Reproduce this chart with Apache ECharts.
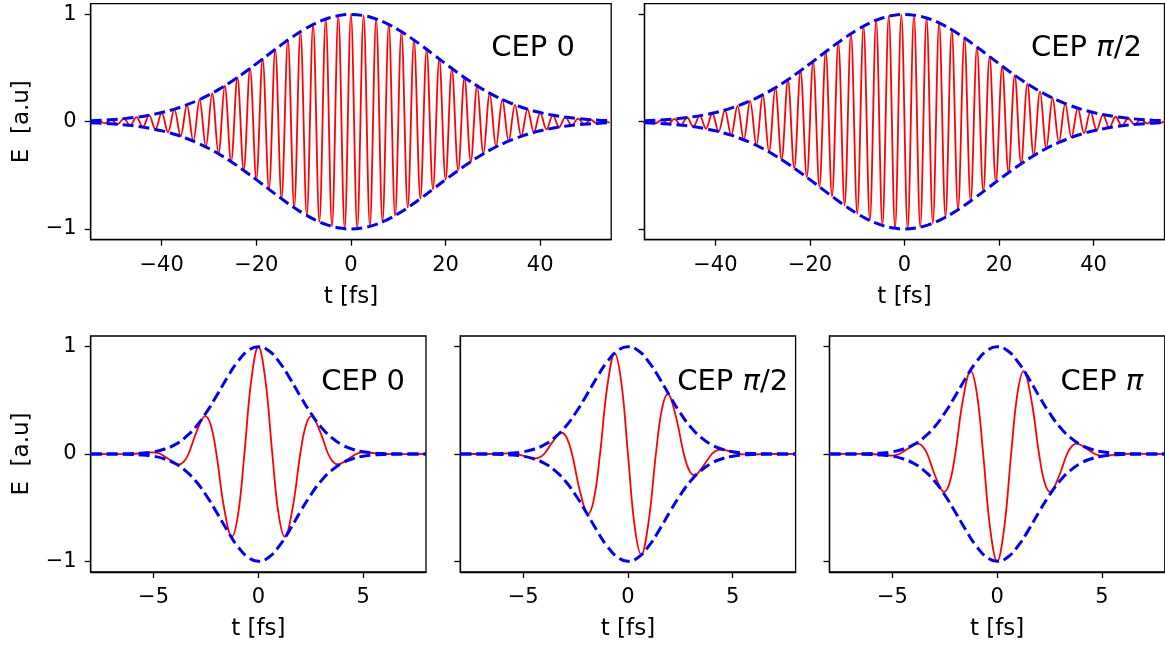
<!DOCTYPE html>
<html><head><meta charset="utf-8">
<script src="https://cdn.jsdelivr.net/npm/echarts@6/dist/echarts.min.js"></script>
<style>html,body{margin:0;padding:0;background:#fff}#c{width:1165px;height:646px}</style>
</head><body><div id="c"></div>
<script>
// ---------------- data ----------------
const topXTicks = [-40, -20, 0, 20, 40];
const botXTicks = [-5, 0, 5];
const yTicks = [-1, 0, 1];
const xLabel = 't [fs]';
const yLabel = 'E  [a.u]';
const panelTitles = ['CEP 0', 'CEP π/2', 'CEP 0', 'CEP π/2', 'CEP π'];

// envelope (upper half), long pulse
const topEnvelope = [[-55,0.0095],[-52.5,0.014],[-50,0.021],[-47.5,0.031],[-45,0.044],[-42.5,0.062],[-40,0.085],[-37.5,0.115],[-35,0.152],[-32.5,0.197],[-30,0.250],[-27.5,0.312],[-25,0.382],[-22.5,0.459],[-20,0.540],[-17.5,0.624],[-15,0.707],[-12.5,0.786],[-10,0.857],[-7.5,0.917],[-5,0.962],[-2.5,0.990],[0,1],[2.5,0.990],[5,0.962],[7.5,0.917],[10,0.857],[12.5,0.786],[15,0.707],[17.5,0.624],[20,0.540],[22.5,0.459],[25,0.382],[27.5,0.312],[30,0.250],[32.5,0.197],[35,0.152],[37.5,0.115],[40,0.085],[42.5,0.062],[45,0.044],[47.5,0.031],[50,0.021],[52.5,0.014],[55,0.0095]];

// field extrema, long pulse, CEP 0
const topFieldCep0 = [[-54.67,-0.010],[-53.33,0.013],[-52.0,-0.016],[-50.67,0.019],[-49.33,-0.024],[-48.0,0.029],[-46.67,-0.035],[-45.33,0.042],[-44.0,-0.051],[-42.67,0.061],[-41.33,-0.072],[-40.0,0.085],[-38.67,-0.100],[-37.33,0.117],[-36.0,-0.136],[-34.67,0.157],[-33.33,-0.181],[-32.0,0.207],[-30.67,-0.235],[-29.33,0.266],[-28.0,-0.299],[-26.67,0.335],[-25.33,-0.373],[-24.0,0.412],[-22.67,-0.454],[-21.33,0.497],[-20.0,-0.540],[-18.67,0.585],[-17.33,-0.630],[-16.0,0.675],[-14.67,-0.718],[-13.33,0.761],[-12.0,-0.801],[-10.67,0.839],[-9.33,-0.875],[-8.0,0.906],[-6.67,-0.934],[-5.33,0.957],[-4.0,-0.976],[-2.67,0.989],[-1.33,-0.997],[0,1],[1.33,-0.997],[2.67,0.989],[4.0,-0.976],[5.33,0.957],[6.67,-0.934],[8.0,0.906],[9.33,-0.875],[10.67,0.839],[12.0,-0.801],[13.33,0.761],[14.67,-0.718],[16.0,0.675],[17.33,-0.630],[18.67,0.585],[20.0,-0.540],[21.33,0.497],[22.67,-0.454],[24.0,0.412],[25.33,-0.373],[26.67,0.335],[28.0,-0.299],[29.33,0.266],[30.67,-0.235],[32.0,0.207],[33.33,-0.181],[34.67,0.157],[36.0,-0.136],[37.33,0.117],[38.67,-0.100],[40.0,0.085],[41.33,-0.072],[42.67,0.061],[44.0,-0.051],[45.33,0.042],[46.67,-0.035],[48.0,0.029],[49.33,-0.024],[50.67,0.019],[52.0,-0.016],[53.33,0.013],[54.67,-0.010]];

// field extrema, long pulse, CEP pi/2
const topFieldCepHalf = [[-55.33,-0.009],[-54.0,0.011],[-52.67,-0.014],[-51.33,0.017],[-50.0,-0.021],[-48.67,0.026],[-47.33,-0.032],[-46.0,0.039],[-44.67,-0.046],[-43.33,0.056],[-42.0,-0.066],[-40.67,0.079],[-39.33,-0.093],[-38.0,0.108],[-36.67,-0.126],[-35.33,0.147],[-34.0,-0.169],[-32.67,0.194],[-31.33,-0.221],[-30.0,0.250],[-28.67,-0.282],[-27.33,0.317],[-26.0,-0.353],[-24.67,0.392],[-23.33,-0.433],[-22.0,0.475],[-20.67,-0.518],[-19.33,0.563],[-18.0,-0.607],[-16.67,0.652],[-15.33,-0.696],[-14.0,0.740],[-12.67,-0.781],[-11.33,0.821],[-10.0,-0.857],[-8.67,0.891],[-7.33,-0.921],[-6.0,0.946],[-4.67,-0.967],[-3.33,0.983],[-2.0,-0.994],[-0.67,0.999],[0.67,-0.999],[2.0,0.994],[3.33,-0.983],[4.67,0.967],[6.0,-0.946],[7.33,0.921],[8.67,-0.891],[10.0,0.857],[11.33,-0.821],[12.67,0.781],[14.0,-0.740],[15.33,0.696],[16.67,-0.652],[18.0,0.607],[19.33,-0.563],[20.67,0.518],[22.0,-0.475],[23.33,0.433],[24.67,-0.392],[26.0,0.353],[27.33,-0.317],[28.67,0.282],[30.0,-0.250],[31.33,0.221],[32.67,-0.194],[34.0,0.169],[35.33,-0.147],[36.67,0.126],[38.0,-0.108],[39.33,0.093],[40.67,-0.079],[42.0,0.066],[43.33,-0.056],[44.67,0.046],[46.0,-0.039],[47.33,0.032],[48.67,-0.026],[50.0,0.021],[51.33,-0.017],[52.67,0.014],[54.0,-0.011],[55.33,0.009]];

// envelope (upper half), short pulse
const botEnvelope = [[-8,0],[-7.5,0.0002],[-7,0.0005],[-6.5,0.0015],[-6,0.004],[-5.5,0.0095],[-5,0.021],[-4.5,0.044],[-4,0.085],[-3.5,0.152],[-3,0.250],[-2.5,0.382],[-2,0.540],[-1.5,0.707],[-1,0.857],[-0.5,0.962],[0,1],[0.5,0.962],[1,0.857],[1.5,0.707],[2,0.540],[2.5,0.382],[3,0.250],[3.5,0.152],[4,0.085],[4.5,0.044],[5,0.021],[5.5,0.0095],[6,0.004],[6.5,0.0015],[7,0.0005],[7.5,0.0002],[8,0]];

// field (extrema, zero crossings and points between), short pulse
const botFieldCep0 = [[-8,0],[-6.37,-0.0015],[-6.0,0],[-5.54,0.008],[-5.08,0.016],[-4.874,0.012],[-4.667,0],[-4.234,-0.054],[-3.80,-0.097],[-3.567,-0.074],[-3.333,0],[-2.932,0.216],[-2.53,0.354],[-2.265,0.266],[-2.0,0],[-1.632,-0.506],[-1.264,-0.772],[-0.966,-0.561],[-0.667,0],[-0.333,0.695],[0,1],[0.333,0.695],[0.667,0],[0.966,-0.561],[1.264,-0.772],[1.632,-0.506],[2.0,0],[2.265,0.266],[2.53,0.354],[2.932,0.216],[3.333,0],[3.567,-0.074],[3.80,-0.097],[4.234,-0.054],[4.667,0],[4.874,0.012],[5.08,0.016],[5.54,0.008],[6.0,0],[6.37,-0.0015],[8,0]];
const botFieldCepHalf = [[-8,0],[-6.667,0],[-6.20,0.0024],[-5.728,0.005],[-5.53,0.004],[-5.333,0],[-4.889,-0.022],[-4.444,-0.042],[-4.222,-0.032],[-4.0,0],[-3.584,0.115],[-3.167,0.198],[-2.917,0.150],[-2.667,0],[-2.282,-0.353],[-1.897,-0.558],[-1.615,-0.412],[-1.333,0],[-0.983,0.634],[-0.632,0.937],[-0.316,0.667],[0,0],[0.316,-0.667],[0.632,-0.937],[0.983,-0.634],[1.333,0],[1.615,0.412],[1.897,0.558],[2.282,0.353],[2.667,0],[2.917,-0.150],[3.167,-0.198],[3.584,-0.115],[4.0,0],[4.222,0.032],[4.444,0.042],[4.889,0.022],[5.333,0],[5.53,-0.004],[5.728,-0.005],[6.20,-0.0024],[6.667,0],[8,0]];
const botFieldCepPi = [[-8,0],[-6.37,0.0015],[-6.0,0],[-5.54,-0.008],[-5.08,-0.016],[-4.874,-0.012],[-4.667,0],[-4.234,0.054],[-3.80,0.097],[-3.567,0.074],[-3.333,0],[-2.932,-0.216],[-2.53,-0.354],[-2.265,-0.266],[-2.0,0],[-1.632,0.506],[-1.264,0.772],[-0.966,0.561],[-0.667,0],[-0.333,-0.695],[0,-1],[0.333,-0.695],[0.667,0],[0.966,0.561],[1.264,0.772],[1.632,0.506],[2.0,0],[2.265,-0.266],[2.53,-0.354],[2.932,-0.216],[3.333,0],[3.567,0.074],[3.80,0.097],[4.234,0.054],[4.667,0],[4.874,-0.012],[5.08,-0.016],[5.54,-0.008],[6.0,0],[6.37,0.0015],[8,0]];

// title anchor positions in data coordinates
const titleAnchors = [[38.5, 0.68], [38.5, 0.68], [5, 0.67], [5, 0.67], [5, 0.67]];

// ---------------- chart ----------------
const FONT = 'DejaVu Sans';
const fmt = v => (v < 0 ? '\u2212' + Math.abs(v) : String(v));
const lower = arr => arr.map(p => [p[0], -p[1]]);

const panels = [
  {grid:{left:90.7, top:3.7, width:520.5, height:236}, xr:[-55,55], xt:topXTicks, field:topFieldCep0, env:topEnvelope, ylab:true, smooth:0.35},
  {grid:{left:644.5, top:3.7, width:520, height:236}, xr:[-55,55], xt:topXTicks, field:topFieldCepHalf, env:topEnvelope, ylab:false, smooth:0.35},
  {grid:{left:90.7, top:336, width:335.3, height:236}, xr:[-8,8], xt:botXTicks, field:botFieldCep0, env:botEnvelope, ylab:true, smooth:0.4},
  {grid:{left:460.3, top:336, width:335.3, height:236}, xr:[-8,8], xt:botXTicks, field:botFieldCepHalf, env:botEnvelope, ylab:false, smooth:0.4},
  {grid:{left:829.5, top:336, width:335.3, height:236}, xr:[-8,8], xt:botXTicks, field:botFieldCepPi, env:botEnvelope, ylab:false, smooth:0.4}
];

const grids = [], xAxes = [], yAxes = [], series = [];
const txt = {fontFamily: FONT, color: '#000'};
panels.forEach((p, i) => {
  grids.push(Object.assign({show:true, borderColor:'#000', borderWidth:1.3, backgroundColor:'#fff', containLabel:false}, p.grid));
  xAxes.push({
    type:'value', gridIndex:i, min:p.xr[0], max:p.xr[1],
    axisLine:{show:true, onZero:false, lineStyle:{color:'#000', width:1.3}},
    splitLine:{show:false},
    axisTick:{show:true, length:6, lineStyle:{color:'#000', width:1.3}, customValues:p.xt},
    axisLabel:Object.assign({show:true, customValues:p.xt, formatter:fmt, fontSize:21, margin:15}, txt),
    name:xLabel, nameLocation:'middle', nameGap:46,
    nameTextStyle:Object.assign({fontSize:23}, txt)
  });
  yAxes.push({
    type:'value', gridIndex:i, min:-1.1, max:1.1,
    axisLine:{show:true, onZero:false, lineStyle:{color:'#000', width:1.3}},
    splitLine:{show:false},
    axisTick:{show:true, length:6, lineStyle:{color:'#000', width:1.3}, customValues:yTicks},
    axisLabel:Object.assign({show:p.ylab, customValues:yTicks, formatter:fmt, fontSize:21, margin:14}, txt),
    name:p.ylab ? yLabel : '', nameLocation:'middle', nameGap:57, nameRotate:90,
    nameTextStyle:Object.assign({fontSize:23}, txt)
  });
  series.push({
    type:'line', xAxisIndex:i, yAxisIndex:i, data:p.field, smooth:p.smooth,
    showSymbol:false, symbol:'none', lineStyle:{color:'#ff0000', width:1.8}, silent:true, animation:false
  });
  series.push({
    type:'line', xAxisIndex:i, yAxisIndex:i, data:p.env, smooth:0.5,
    showSymbol:false, symbol:'none', lineStyle:{color:'#0000ff', width:3, type:[11,5]}, silent:true, animation:false
  });
  series.push({
    type:'line', xAxisIndex:i, yAxisIndex:i, data:lower(p.env), smooth:0.5,
    showSymbol:false, symbol:'none', lineStyle:{color:'#0000ff', width:3, type:[11,5]}, silent:true, animation:false
  });
  const t = panelTitles[i];
  let rich = '{a|' + t.replace('π', '}{b|π}{a|') + '}';
  rich = rich.replace('{a|}', '');
  const plain = {fontFamily:FONT, fontSize:29, color:'#000', opacity:1, textBorderWidth:0, textBorderColor:'transparent', textShadowBlur:0};
  series.push({
    type:'scatter', xAxisIndex:i, yAxisIndex:i, data:[titleAnchors[i]], symbol:'circle', symbolSize:0, silent:true, animation:false, z:5,
    itemStyle:{color:'#000', opacity:1},
    label:Object.assign({show:true, position:'inside', formatter:rich,
      rich:{a:Object.assign({}, plain), b:Object.assign({}, plain, {fontStyle:'italic'})}}, plain)
  });
});

const chart = echarts.init(document.getElementById('c'), null, {renderer:'canvas'});
chart.setOption({animation:false, backgroundColor:'#fff', grid:grids, xAxis:xAxes, yAxis:yAxes, series:series});
</script></body></html>
